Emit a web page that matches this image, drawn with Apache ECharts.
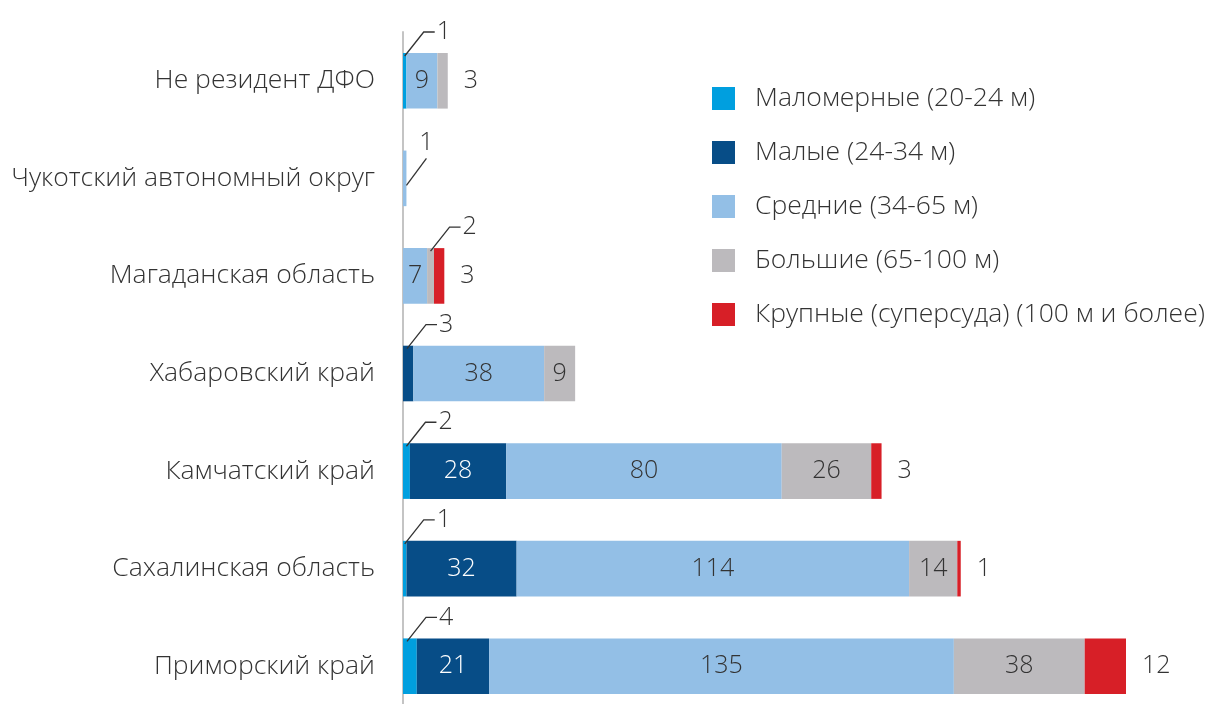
<!DOCTYPE html>
<html>
<head>
<meta charset="utf-8">
<script src="https://cdn.jsdelivr.net/npm/echarts@6/dist/echarts.min.js"></script>
<style>
  html, body { margin: 0; padding: 0; background: #fff; }
  #chart { width: 1208px; height: 704px; }
</style>
</head>
<body>
<div id="chart"></div>
<script>
const categories = ['Не резидент ДФО', 'Чукотский автономный округ', 'Магаданская область',
  'Хабаровский край', 'Камчатский край', 'Сахалинская область', 'Приморский край']
const malomernye = [1, null, null, null, 2, 1, 4]
const malye = [null, null, null, 3, 28, 32, 21]
const srednie = [9, 1, 7, 38, 80, 114, 135]
const bolshie = [3, null, 2, 9, 26, 14, 38]
const krupnye = [null, null, 3, null, 3, 1, 12]
const seriesNames = ['Маломерные (20-24 м)', 'Малые (24-34 м)', 'Средние (34-65 м)',
  'Большие (65-100 м)', 'Крупные (суперсуда) (100 м и более)']

const colors = ['#009fdf', '#074d87', '#93bfe6', '#bcbabd', '#d71f27']
const font = { fontFamily: 'Open Sans', fontWeight: 300 }
const allSeries = [malomernye, malye, srednie, bolshie, krupnye]

const chart = echarts.init(document.getElementById('chart'))

const leaders = []
const barSeries = allSeries.map((values, i) => {
  const data = values.map((v, j) => {
    if (v == null) return null
    let start = 0
    for (let k = 0; k < i; k++) start += allSeries[k][j] || 0
    let isFirst = start === 0
    let isLast = true
    for (let k = i + 1; k < allSeries.length; k++) {
      if (allSeries[k][j] != null) isLast = false
    }
    let label
    if (i === 4 || (v < 5 && isLast && !isFirst)) {
      label = { show: true, position: 'right', distance: 16, color: '#333' }
    } else if (v < 5) {
      // small segment: number goes on a leader line (custom series below)
      label = { show: false }
      leaders.push([start, j, start + v, v, isFirst && isLast ? 1 : 0])
    } else {
      label = { show: true, position: 'inside', color: i === 1 ? '#fff' : '#333' }
    }
    return { value: v, label: label }
  })
  return {
    name: seriesNames[i],
    type: 'bar',
    stack: 'total',
    barWidth: '57%',
    itemStyle: { color: colors[i] },
    label: Object.assign({ fontSize: 25 }, font),
    data: data
  }
})

chart.setOption({
  animation: false,
  legend: {
    orient: 'vertical',
    left: 712,
    top: 85,
    padding: 0,
    itemWidth: 23,
    itemHeight: 23,
    itemGap: 27,
    icon: 'rect',
    selectedMode: false,
    data: seriesNames,
    textStyle: Object.assign({ fontSize: 26.5, color: '#333', padding: [0, 0, 0, 15] }, font)
  },
  grid: { left: 403, top: 32, width: 723, height: 683, outerBoundsMode: 'none' },
  xAxis: { type: 'value', min: 0, max: 210, show: false },
  yAxis: {
    type: 'category',
    data: categories,
    inverse: true,
    axisLine: { show: true, lineStyle: { color: '#c4c4c4', width: 2 } },
    axisTick: { show: false },
    axisLabel: Object.assign({ fontSize: 26.5, color: '#333', margin: 28 }, font)
  },
  series: barSeries.concat([{
    type: 'custom',
    name: 'leaders',
    encode: { x: 0, y: 1 },
    z: 5,
    silent: true,
    data: leaders,
    renderItem: function (params, api) {
      const x0 = api.value(0)
      const cat = api.value(1)
      const x1 = api.value(2)
      const v = api.value(3)
      const kind = api.value(4)
      const p0 = api.coord([x0, cat])
      const p1 = api.coord([x1, cat])
      const barH = api.size([0, 1])[1] * 0.57
      const top = p0[1] - barH / 2
      const txt = Object.assign({ text: String(v), fill: '#333', fontSize: 25 }, font)
      if (kind === 1) {
        const sx = p1[0]
        const sy = p0[1] + 7
        const ex = sx + 20
        const ey = p0[1] - 20
        return {
          type: 'group',
          children: [
            { type: 'polyline', shape: { points: [[sx, sy], [ex, ey]] },
              style: { stroke: '#333', lineWidth: 1.3, fill: null } },
            { type: 'text', x: ex, y: ey - 15,
              style: Object.assign({ align: 'center', verticalAlign: 'middle' }, txt) }
          ]
        }
      }
      const sx = p0[0] + Math.min((p1[0] - p0[0]) / 2, 4)
      const sy = top + 3
      const ex = sx + 19
      const ey = top - 21
      return {
        type: 'group',
        children: [
          { type: 'polyline', shape: { points: [[sx, sy], [ex, ey], [ex + 11, ey]] },
            style: { stroke: '#333', lineWidth: 1.3, fill: null } },
          { type: 'text', x: ex + 13, y: ey,
            style: Object.assign({ align: 'left', verticalAlign: 'middle' }, txt) }
        ]
      }
    }
  }])
})
</script>
</body>
</html>
